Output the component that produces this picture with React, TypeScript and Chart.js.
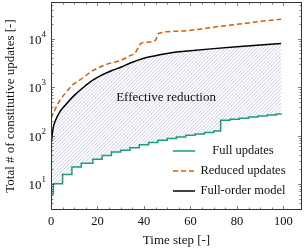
import React, { useEffect, useRef } from 'react';
import { Chart, registerables } from 'chart.js';
Chart.register(...registerables);

// ---- Data ----
const fullUpdatesSteps = [0, 1, 5, 9, 13, 18, 22, 26, 30, 34, 38, 42, 46, 50, 54, 58, 62, 66, 70, 73, 77, 81, 85, 89, 93, 97, 99];
const fullUpdatesValues = [6.3, 10.1, 15.8, 22.6, 26.7, 32.4, 39, 45.7, 50, 56, 65, 72, 80, 87, 94, 102, 108, 116, 124, 207, 218, 230, 243, 256, 268, 280, 286];

const reducedSteps = [0, 1, 3, 6, 9, 14, 18, 24, 30, 34, 36, 39, 45, 46, 55, 64, 70, 80, 90, 99];
const reducedValues = [225, 290, 460, 740, 1080, 1600, 2200, 3000, 3600, 4500, 5000, 8200, 9400, 12800, 14500, 15900, 17500, 20000, 23000, 25600];

const fullOrderSteps = [0, 1, 2, 4, 6, 8, 10, 14, 18, 22, 26, 30, 35, 40, 45, 50, 55, 60, 70, 80, 90, 99];
const fullOrderValues = [65, 150, 210, 320, 420, 540, 680, 1000, 1400, 1800, 2200, 2600, 3300, 4000, 4500, 5000, 5400, 5700, 6300, 6900, 7500, 8000];

const seriesLabels = ['Full updates', 'Reduced updates', 'Full-order model'];
const seriesColors = ['#1b9e77', '#d95f02', '#000000'];
const hatchColor = 'rgb(178,178,228)';
const yDecades = [10, 100, 1000, 10000];
const xAxisTitle = 'Time step [-]';
const yAxisTitle = 'Total # of constitutive updates [-]';
const annotationText = 'Effective reduction';
const annotationPos = { x: 49.5, y: 620 };

const SERIF = '"Liberation Serif", "DejaVu Serif", "Times New Roman", serif';

export default function App() {
  const ref = useRef<HTMLCanvasElement>(null);
  useEffect(() => {
    const canvas = ref.current!;

    const framePlugin = {
      id: 'framePlugin',
      beforeDatasetsDraw(chart: any) {
        // hatched region between full-order model (dataset 2) and full updates (dataset 0)
        const ctx = chart.ctx as CanvasRenderingContext2D;
        const { left, right, top, bottom } = chart.chartArea;
        const upper = chart.getDatasetMeta(2).dataset;
        const lower = chart.getDatasetMeta(0).dataset;
        ctx.save();
        ctx.beginPath();
        ctx.rect(left, top, right - left, bottom - top);
        ctx.clip();
        ctx.beginPath();
        const up = upper.points;
        const lo = lower.points;
        upper.path(ctx);
        ctx.lineTo(up[up.length - 1].x, lo[lo.length - 1].y);
        for (let i = lo.length - 1; i > 0; i--) {
          ctx.lineTo(lo[i].x, lo[i].y);
          ctx.lineTo(lo[i].x, lo[i - 1].y);
        }
        ctx.lineTo(lo[0].x, lo[0].y);
        ctx.closePath();
        ctx.clip();
        ctx.strokeStyle = hatchColor;
        ctx.lineWidth = 0.7;
        ctx.beginPath();
        const h = bottom - top;
        for (let x = left - h; x < right + 4; x += 3.6) {
          ctx.moveTo(x, bottom);
          ctx.lineTo(x + h, top);
        }
        ctx.stroke();
        ctx.restore();
      },
      afterDatasetsDraw(chart: any) {
        const ctx = chart.ctx as CanvasRenderingContext2D;
        const { left, right, top, bottom } = chart.chartArea;
        const xs = chart.scales.x;
        const ys = chart.scales.y;
        ctx.save();
        // annotation
        ctx.fillStyle = '#111';
        ctx.font = `13px ${SERIF}`;
        ctx.textAlign = 'center';
        ctx.textBaseline = 'middle';
        ctx.fillText(annotationText, xs.getPixelForValue(annotationPos.x), ys.getPixelForValue(annotationPos.y));

        // border
        ctx.strokeStyle = '#333';
        ctx.lineWidth = 1;
        ctx.strokeRect(left + 0.5, top + 0.5, right - left - 1, bottom - top - 1);

        // ticks
        ctx.lineWidth = 0.7;
        ctx.strokeStyle = '#444';
        ctx.beginPath();
        for (const t of xs.ticks) {
          const v = t.value;
          if (Math.abs(v % 5) > 1e-9) continue;
          const px = Math.round(xs.getPixelForValue(v)) + 0.5;
          const len = v % 20 === 0 ? 4 : 2.5;
          ctx.moveTo(px, bottom); ctx.lineTo(px, bottom - len);
          ctx.moveTo(px, top); ctx.lineTo(px, top + len);
        }
        for (const t of ys.ticks) {
          const v = t.value;
          const e = Math.floor(Math.log10(v) + 1e-9);
          const m = v / Math.pow(10, e);
          if (Math.abs(m - Math.round(m)) > 1e-6) continue;
          const py = Math.round(ys.getPixelForValue(v)) + 0.5;
          if (py < top + 1 || py > bottom - 1) continue;
          const len = Math.round(m) === 1 ? 4 : 2.5;
          ctx.moveTo(left, py); ctx.lineTo(left + len, py);
          ctx.moveTo(right, py); ctx.lineTo(right - len, py);
        }
        ctx.stroke();

        // y tick labels with superscripts
        ctx.fillStyle = '#111';
        ctx.textBaseline = 'middle';
        for (const d of yDecades) {
          const py = ys.getPixelForValue(d);
          const exp = String(Math.round(Math.log10(d)));
          ctx.font = `9px ${SERIF}`;
          const supW = ctx.measureText(exp).width;
          const supX = left - 5 - supW;
          ctx.textAlign = 'left';
          ctx.fillText(exp, supX, py - 4.5);
          ctx.font = `13px ${SERIF}`;
          ctx.textAlign = 'right';
          ctx.fillText('10', supX, py + 1.5);
        }

        // legend
        const rows = [bottom - 59, bottom - 39, bottom - 19];
        const ds = chart.data.datasets;
        for (let i = 0; i < 3; i++) {
          const y = rows[i];
          ctx.strokeStyle = ds[i].borderColor;
          ctx.lineWidth = 1.5;
          ctx.setLineDash(ds[i].borderDash || []);
          ctx.beginPath();
          ctx.moveTo(right - 129, y); ctx.lineTo(right - 107, y);
          ctx.stroke();
          ctx.setLineDash([]);
          ctx.fillStyle = '#111';
          ctx.font = `12.5px ${SERIF}`;
          ctx.textAlign = 'center';
          ctx.fillText(ds[i].label, right - 59, y);
        }
        ctx.restore();
      },
    };

    const chart = new Chart(canvas, {
      type: 'line',
      data: {
        datasets: [
          {
            label: seriesLabels[0],
            data: fullUpdatesSteps.map((x, i) => ({ x, y: fullUpdatesValues[i] })),
            borderColor: seriesColors[0],
            borderWidth: 1.5,
            pointRadius: 0,
            stepped: true,
            fill: false,
          },
          {
            label: seriesLabels[1],
            data: reducedSteps.map((x, i) => ({ x, y: reducedValues[i] })),
            borderColor: seriesColors[1],
            borderWidth: 1.5,
            borderDash: [5, 3],
            pointRadius: 0,
            cubicInterpolationMode: 'monotone',
            fill: false,
          },
          {
            label: seriesLabels[2],
            data: fullOrderSteps.map((x, i) => ({ x, y: fullOrderValues[i] })),
            borderColor: seriesColors[2],
            borderWidth: 1.5,
            pointRadius: 0,
            cubicInterpolationMode: 'monotone',
            fill: false,
          },
        ],
      },
      options: {
        responsive: false,
        animation: false,
        layout: { padding: { top: 2, right: 2, left: 0, bottom: 0 } },
        plugins: { legend: { display: false }, tooltip: { enabled: false } },
        scales: {
          x: {
            type: 'linear',
            min: 0,
            max: 108,
            grid: { display: false, drawTicks: false },
            border: { display: false },
            ticks: {
              stepSize: 5,
              autoSkip: false,
              maxRotation: 0,
              padding: 4,
              color: '#111',
              font: { family: SERIF, size: 12.5 },
              callback: (v: any) => (Number(v) % 20 === 0 ? String(v) : ''),
            },
            title: { display: true, text: xAxisTitle, color: '#111', font: { family: SERIF, size: 13 }, padding: { top: 0, bottom: 4 } },
            afterFit: (s: any) => { s.height = 42; },
          },
          y: {
            type: 'logarithmic',
            min: 2.9,
            max: 58000,
            grid: { display: false, drawTicks: false },
            border: { display: false },
            ticks: { display: false, autoSkip: false },
            title: { display: true, text: yAxisTitle, color: '#111', font: { family: SERIF, size: 13 }, padding: { top: 3, bottom: 0 } },
            afterFit: (s: any) => { s.width = 51; },
          },
        },
      },
      plugins: [framePlugin],
    } as any);
    return () => chart.destroy();
  }, []);
  return (
    <div style={{ position: 'fixed', left: 0, top: 0, width: 306, height: 252 }}>
      <canvas ref={ref} width={306} height={252} style={{ display: 'block' }} />
    </div>
  );
}
